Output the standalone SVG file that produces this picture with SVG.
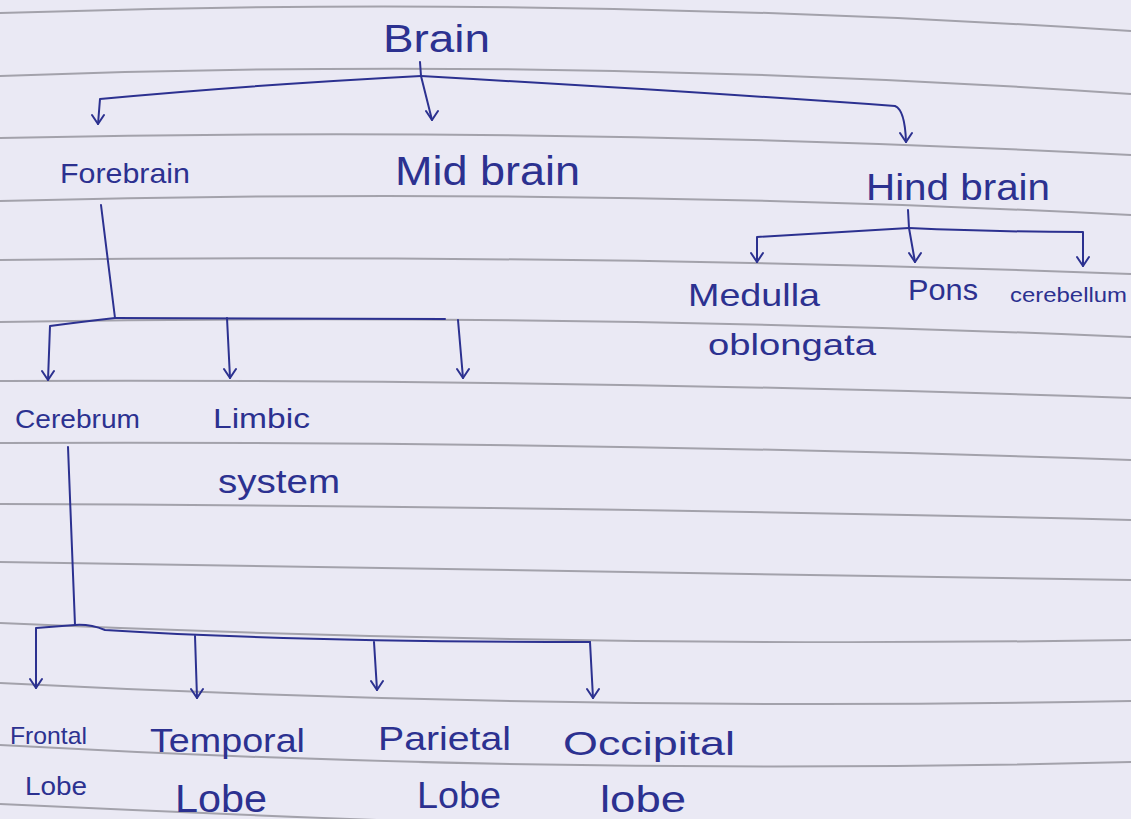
<svg xmlns="http://www.w3.org/2000/svg" width="1131" height="819" viewBox="0 0 1131 819">
<style>
.rule{fill:none;stroke:#a3a2ab;stroke-width:2}
.ink{fill:#2c3190;font-family:"Liberation Sans","DejaVu Sans",sans-serif;font-weight:normal}
.con{fill:none;stroke:#2c3190;stroke-width:2;stroke-linecap:round;stroke-linejoin:round}
</style>
<defs>
<marker id="v" viewBox="0 0 14 12" refX="7" refY="11" markerWidth="14" markerHeight="12" markerUnits="userSpaceOnUse" orient="0">
<path d="M1,2 L7,11 L13,2" fill="none" stroke="#2c3190" stroke-width="2" stroke-linecap="round" stroke-linejoin="round"/>
</marker>
</defs>
<rect x="0" y="0" width="1131" height="819" fill="#eae9f4"/>
<g id="paper-rules">
<path class="rule" d="M0,13 Q565,-6 1131,31"/>
<path class="rule" d="M0,76 Q565,55 1131,94"/>
<path class="rule" d="M0,138 Q565,125.5 1131,155"/>
<path class="rule" d="M0,201 Q565,186 1131,215"/>
<path class="rule" d="M0,260 Q565,253 1131,274"/>
<path class="rule" d="M0,322 Q565,312.5 1131,337"/>
<path class="rule" d="M0,381 Q565,378.5 1131,398"/>
<path class="rule" d="M0,443 Q565,440.5 1131,460"/>
<path class="rule" d="M0,504 Q565,506 1131,520"/>
<path class="rule" d="M0,562 Q565,573 1131,580"/>
<path class="rule" d="M0,623 Q565,648.5 1131,640"/>
<path class="rule" d="M0,683 Q565,712 1131,701"/>
<path class="rule" d="M0,745 Q565,776.5 1131,762"/>
<path class="rule" d="M0,804 Q300,818 600,828"/>
</g>
<g id="connectors">
<path class="con" d="M420,62 L421,76"/>
<path class="con" d="M421,76 Q250,85 100,99 L98,124" marker-end="url(#v)"/>
<path class="con" d="M421,76 L432,120" marker-end="url(#v)"/>
<path class="con" d="M421,76 Q700,92 895,106 Q905,110 906,142" marker-end="url(#v)"/>
<path class="con" d="M101,205 L115,318"/>
<path class="con" d="M115,318 Q80,322 50,326 L48,380" marker-end="url(#v)"/>
<path class="con" d="M115,318 L445,319"/>
<path class="con" d="M227,318 L230,378" marker-end="url(#v)"/>
<path class="con" d="M458,320 L463,378" marker-end="url(#v)"/>
<path class="con" d="M908,210 L909,228"/>
<path class="con" d="M909,228 Q820,233 757,237 L757,262" marker-end="url(#v)"/>
<path class="con" d="M909,228 L915,262" marker-end="url(#v)"/>
<path class="con" d="M909,228 Q1000,232 1083,232 L1083,266" marker-end="url(#v)"/>
<path class="con" d="M68,447 L75,625"/>
<path class="con" d="M75,625 Q50,627 36,628 L36,688" marker-end="url(#v)"/>
<path class="con" d="M75,625 Q90,624 105,630 Q300,642 590,642"/>
<path class="con" d="M195,636 L197,698" marker-end="url(#v)"/>
<path class="con" d="M374,642 L377,690" marker-end="url(#v)"/>
<path class="con" d="M590,642 L593,698" marker-end="url(#v)"/>
</g>
<g id="brain"><text class="ink" x="383" y="52" font-size="38" textLength="107" lengthAdjust="spacingAndGlyphs">Brain</text></g>
<g id="forebrain"><text class="ink" x="60" y="183" font-size="28" textLength="130" lengthAdjust="spacingAndGlyphs">Forebrain</text></g>
<g id="midbrain"><text class="ink" x="395" y="185" font-size="40" textLength="185" lengthAdjust="spacingAndGlyphs">Mid brain</text></g>
<g id="hindbrain"><text class="ink" x="866" y="200" font-size="36" textLength="184" lengthAdjust="spacingAndGlyphs">Hind brain</text></g>
<g id="medulla">
<text class="ink" x="688" y="306" font-size="32" textLength="132" lengthAdjust="spacingAndGlyphs">Medulla</text>
<text class="ink" x="708" y="355" font-size="30" textLength="168" lengthAdjust="spacingAndGlyphs">oblongata</text>
</g>
<g id="pons"><text class="ink" x="908" y="300" font-size="30" textLength="70" lengthAdjust="spacingAndGlyphs">Pons</text></g>
<g id="cerebellum"><text class="ink" x="1010" y="302" font-size="21" textLength="117" lengthAdjust="spacingAndGlyphs">cerebellum</text></g>
<g id="cerebrum"><text class="ink" x="15" y="428" font-size="26" textLength="125" lengthAdjust="spacingAndGlyphs">Cerebrum</text></g>
<g id="limbic">
<text class="ink" x="213" y="428" font-size="28" textLength="97" lengthAdjust="spacingAndGlyphs">Limbic</text>
<text class="ink" x="218" y="493" font-size="34" textLength="122" lengthAdjust="spacingAndGlyphs">system</text>
</g>
<g id="frontal">
<text class="ink" x="10" y="744" font-size="24" textLength="77" lengthAdjust="spacingAndGlyphs">Frontal</text>
<text class="ink" x="25" y="795" font-size="26" textLength="62" lengthAdjust="spacingAndGlyphs">Lobe</text>
</g>
<g id="temporal">
<text class="ink" x="150" y="752" font-size="34" textLength="155" lengthAdjust="spacingAndGlyphs">Temporal</text>
<text class="ink" x="175" y="812" font-size="38" textLength="92" lengthAdjust="spacingAndGlyphs">Lobe</text>
</g>
<g id="parietal">
<text class="ink" x="378" y="750" font-size="34" textLength="133" lengthAdjust="spacingAndGlyphs">Parietal</text>
<text class="ink" x="417" y="808" font-size="36" textLength="84" lengthAdjust="spacingAndGlyphs">Lobe</text>
</g>
<g id="occipital">
<text class="ink" x="563" y="755" font-size="34" textLength="172" lengthAdjust="spacingAndGlyphs">Occipital</text>
<text class="ink" x="600" y="812" font-size="36" textLength="86" lengthAdjust="spacingAndGlyphs">lobe</text>
</g>
</svg>
